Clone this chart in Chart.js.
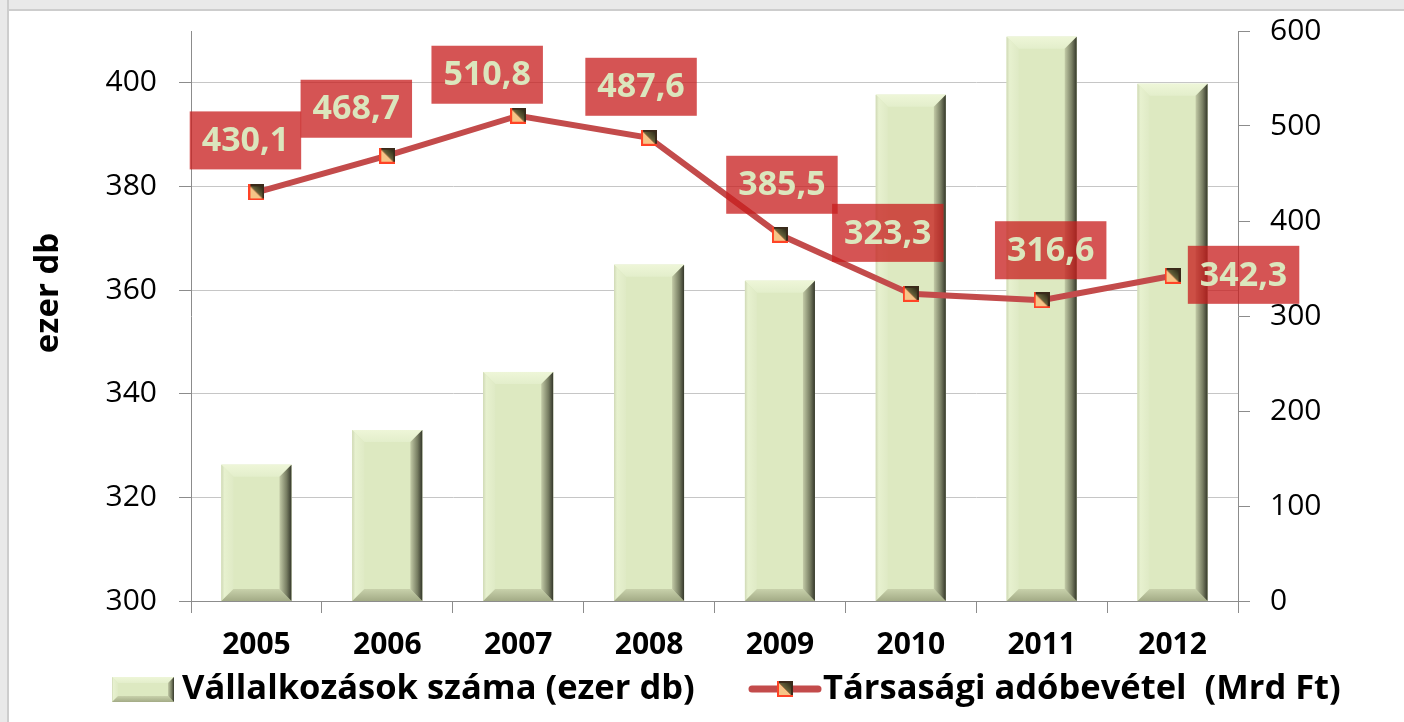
<!DOCTYPE html>
<html>
<head>
<meta charset="utf-8">
<script src="https://cdn.jsdelivr.net/npm/chart.js@4.4.1/dist/chart.umd.min.js"></script>
<style>
    html, body { margin: 0; padding: 0; background: #fff; }
    #wrap { position: relative; width: 1404px; height: 722px; overflow: hidden; background: #fff; }
    #frameTop { position: absolute; left: 0; top: 0; width: 1404px; height: 9px; background: #e9e9e9; border-bottom: 2px solid #cdcdcd; }
    #frameLeft { position: absolute; left: 0; top: 0; width: 7px; height: 722px; background: #e9e9e9; border-right: 2px solid #cdcdcd; }
    #chart { position: absolute; left: 0; top: 0; }
</style>
</head>
<body>
<div id="wrap">
    <div id="frameTop"></div>
    <div id="frameLeft"></div>
    <canvas id="chart" width="1404" height="722"></canvas>
</div>
<script>
const years = ["2005", "2006", "2007", "2008", "2009", "2010", "2011", "2012"];
const companies = [326.3, 333.0, 344.2, 364.9, 361.8, 397.7, 408.9, 399.8];   // ezer db
const taxRevenue = [430.1, 468.7, 510.8, 487.6, 385.5, 323.3, 316.6, 342.3];  // Mrd Ft
const leftTicks = [300, 320, 340, 360, 380, 400];
const rightTicks = [0, 100, 200, 300, 400, 500, 600];
const seriesNames = ["Vállalkozások száma (ezer db)", "Társasági adóbevétel  (Mrd Ft)"];
const leftAxisTitle = "ezer db";

// where each value box sits relative to its point (hand placed, like the original)
const labelOffsets = [[-11, -52], [-31, -47], [-31, -41], [-8, -51], [2, -50], [-23, -61], [9, -50], [71, -1]];

const FONT = "'Open Sans', sans-serif";
const LINE_COLOR = "#c34b4b";
const AXIS_COLOR = "#8c8c8c";

function fmt(v) {
    return v.toFixed(1).replace(".", ",");
}

function poly(ctx, pts, fill) {
    ctx.beginPath();
    ctx.moveTo(pts[0][0], pts[0][1]);
    for (let i = 1; i < pts.length; i++) ctx.lineTo(pts[i][0], pts[i][1]);
    ctx.closePath();
    ctx.fillStyle = fill;
    ctx.fill();
}

// Excel style "bevel" on a bar
function drawBevelRect(ctx, x0, y0, x1, y1, b) {
    ctx.save();
    ctx.fillStyle = "#dde9c1";
    ctx.fillRect(x0, y0, x1 - x0, y1 - y0);

    let g = ctx.createLinearGradient(0, y0, 0, y0 + b);
    g.addColorStop(0, "#eef6d8");
    g.addColorStop(1, "#e3eecb");
    poly(ctx, [[x0, y0], [x1, y0], [x1 - b, y0 + b], [x0 + b, y0 + b]], g);

    g = ctx.createLinearGradient(x0, 0, x0 + b, 0);
    g.addColorStop(0, "#d0d9b6");
    g.addColorStop(0.25, "#e7f1cf");
    g.addColorStop(1, "#dfeac5");
    poly(ctx, [[x0, y0], [x0 + b, y0 + b], [x0 + b, y1 - b], [x0, y1]], g);

    g = ctx.createLinearGradient(0, y1 - b, 0, y1);
    g.addColorStop(0, "#c8d1ab");
    g.addColorStop(1, "#a3ab86");
    poly(ctx, [[x0, y1], [x0 + b, y1 - b], [x1 - b, y1 - b], [x1, y1]], g);

    g = ctx.createLinearGradient(x1 - b, 0, x1, 0);
    g.addColorStop(0, "#c3cba7");
    g.addColorStop(0.6, "#777d62");
    g.addColorStop(1, "#34372a");
    poly(ctx, [[x1, y0], [x1, y1], [x1 - b, y1 - b], [x1 - b, y0 + b]], g);
    ctx.restore();
}

const markerImg = (() => {
    const c = document.createElement("canvas");
    c.width = 16;
    c.height = 16;
    const g = c.getContext("2d");
    g.fillStyle = "#ff4326";
    g.fillRect(0, 0, 16, 16);
    g.fillStyle = "#3a2a1a";
    g.fillRect(2, 0, 14, 2);
    g.fillRect(14, 0, 2, 14);
    poly(g, [[2, 2], [2, 14], [14, 14]], "#f6c587");
    const grad = g.createLinearGradient(14, 2, 6, 10);
    grad.addColorStop(0, "#2e2a18");
    grad.addColorStop(1, "#7d7a48");
    poly(g, [[2, 2], [14, 2], [14, 14]], grad);
    return c;
})();

const bevelPlugin = {
    id: "bevelBars",
    afterDatasetDraw(chart, args) {
        if (args.index !== 0) return;
        const ctx = chart.ctx;
        const bottom = chart.chartArea.bottom;
        args.meta.data.forEach(bar => {
            const p = bar.getProps(["x", "y", "base", "width"], true);
            drawBevelRect(ctx, p.x - p.width / 2, p.y, p.x + p.width / 2, Math.min(p.base, bottom), 12);
        });
    }
};

const valueLabelPlugin = {
    id: "valueLabels",
    afterDatasetsDraw(chart) {
        const ctx = chart.ctx;
        const meta = chart.getDatasetMeta(1);
        ctx.save();
        ctx.font = "bold 34px " + FONT;
        ctx.textAlign = "center";
        ctx.textBaseline = "middle";
        meta.data.forEach((pt, i) => {
            const txt = fmt(taxRevenue[i]);
            const w = ctx.measureText(txt).width + 24;
            const h = 58;
            const cx = pt.x + labelOffsets[i][0];
            const cy = pt.y + labelOffsets[i][1];
            ctx.fillStyle = "rgba(200, 30, 30, 0.76)";
            ctx.fillRect(cx - w / 2, cy - h / 2, w, h);
            ctx.fillStyle = "#dbe6bd";
            ctx.fillText(txt, cx, cy + 1);
        });
        ctx.restore();
    }
};

const legendPlugin = {
    id: "customLegend",
    afterDraw(chart) {
        const ctx = chart.ctx;
        ctx.save();

        // left axis title
        ctx.font = "bold 33px " + FONT;
        ctx.fillStyle = "#000";
        ctx.textAlign = "center";
        ctx.textBaseline = "middle";
        ctx.translate(49, 293);
        ctx.rotate(-Math.PI / 2);
        ctx.fillText(leftAxisTitle, 0, 0);
        ctx.setTransform(1, 0, 0, 1, 0, 0);

        const ly = 689;
        drawBevelRect(ctx, 112, ly - 12, 174, ly + 13, 6);

        ctx.font = "bold 34.5px " + FONT;
        ctx.textAlign = "left";
        ctx.fillStyle = "#000";
        ctx.fillText(seriesNames[0], 182, ly);

        ctx.strokeStyle = LINE_COLOR;
        ctx.lineWidth = 7;
        ctx.lineCap = "round";
        ctx.beginPath();
        ctx.moveTo(752, ly);
        ctx.lineTo(818, ly);
        ctx.stroke();
        ctx.drawImage(markerImg, 785 - 8, ly - 8);

        ctx.fillStyle = "#000";
        ctx.fillText(seriesNames[1], 823, ly);
        ctx.restore();
    }
};

const ctx = document.getElementById("chart").getContext("2d");

new Chart(ctx, {
    data: {
        labels: years,
        datasets: [
            {
                type: "bar",
                label: seriesNames[0],
                data: companies,
                yAxisID: "y",
                backgroundColor: "#dde9c1",
                borderWidth: 0,
                barPercentage: 0.535,
                categoryPercentage: 1,
                order: 1
            },
            {
                type: "line",
                label: seriesNames[1],
                data: taxRevenue,
                yAxisID: "y1",
                borderColor: LINE_COLOR,
                borderWidth: 6,
                pointStyle: markerImg,
                pointRadius: 8,
                tension: 0,
                order: 0
            }
        ]
    },
    options: {
        responsive: false,
        animation: false,
        layout: { padding: { top: 31, bottom: 61, left: 0, right: 0 } },
        plugins: {
            legend: { display: false },
            tooltip: { enabled: false }
        },
        scales: {
            x: {
                grid: { drawOnChartArea: false, offset: true, tickLength: 12, color: AXIS_COLOR },
                border: { color: AXIS_COLOR },
                ticks: { font: { family: FONT, size: 30, weight: "bold" }, color: "#000", padding: 14 },
                afterFit: s => { s.height = 60; }
            },
            y: {
                position: "left",
                min: 300,
                max: 410,
                afterBuildTicks: s => { s.ticks = leftTicks.map(v => ({ value: v })); },
                grid: { color: "#c6c6c6", tickColor: AXIS_COLOR, tickLength: 12 },
                border: { color: AXIS_COLOR },
                ticks: { font: { family: FONT, size: 30 }, color: "#000", padding: 22 },
                afterFit: s => { s.width = 191; s.paddingTop = 0; s.paddingBottom = 0; }
            },
            y1: {
                position: "right",
                min: 0,
                max: 600,
                afterBuildTicks: s => { s.ticks = rightTicks.map(v => ({ value: v })); },
                grid: { drawOnChartArea: false, color: AXIS_COLOR, tickLength: 12 },
                border: { color: AXIS_COLOR },
                ticks: { font: { family: FONT, size: 30 }, color: "#000", padding: 20 },
                afterFit: s => { s.width = 166; s.paddingTop = 0; s.paddingBottom = 0; }
            }
        }
    },
    plugins: [bevelPlugin, valueLabelPlugin, legendPlugin]
});
</script>
</body>
</html>
